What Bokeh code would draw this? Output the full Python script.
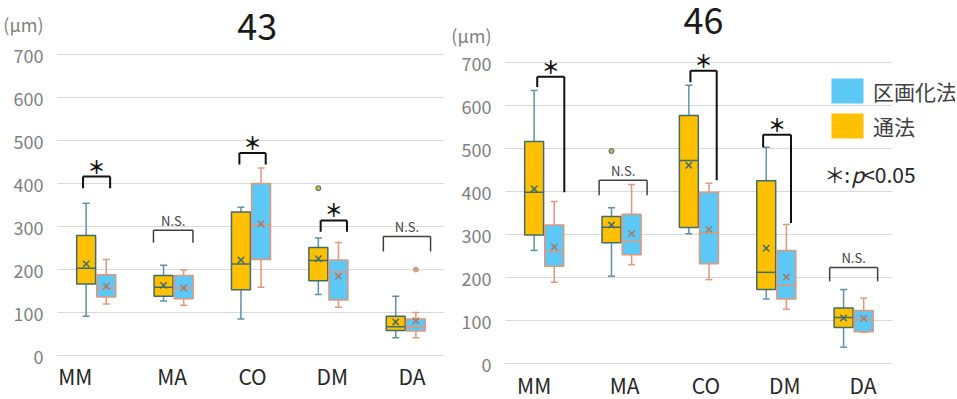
from bokeh.plotting import figure
from bokeh.models import (ColumnDataSource, Range1d, Label, Legend, LegendItem,
                          FixedTicker, Grid)
from bokeh.layouts import row
from bokeh.embed import file_html
from bokeh.resources import INLINE

# ---------------- data ----------------
CATS = ["MM", "MA", "CO", "DM", "DA"]
Y_TICKS = [0, 100, 200, 300, 400, 500, 600, 700]
UNIT_LABEL = "(μm)"

# tooth 43, 通法 (conventional)
t43_conv_min = [91, 127, 85, 142, 41]
t43_conv_q1 = [166, 138, 153, 174, 58]
t43_conv_med = [203, 159, 213, 221, 67]
t43_conv_q3 = [279, 186, 334, 251, 91]
t43_conv_max = [354, 210, 345, 273, 138]
t43_conv_mean = [213, 163, 222, 225, 78]
t43_conv_out_cat = ["DM"]
t43_conv_out_val = [389]

# tooth 43, 区画化法 (compartment)
t43_comp_min = [120, 117, 159, 112, 41]
t43_comp_q1 = [136, 132, 223, 129, 57]
t43_comp_med = [157, 157, 304, 194, 67]
t43_comp_q3 = [188, 186, 400, 222, 85]
t43_comp_max = [223, 199, 436, 263, 100]
t43_comp_mean = [161, 157, 306, 184, 81]
t43_comp_out_cat = ["DA"]
t43_comp_out_val = [200]

# tooth 46, 通法
t46_conv_min = [263, 203, 302, 150, 38]
t46_conv_q1 = [299, 281, 316, 172, 84]
t46_conv_med = [398, 317, 472, 212, 107]
t46_conv_q3 = [516, 342, 577, 425, 129]
t46_conv_max = [635, 362, 647, 503, 172]
t46_conv_mean = [406, 322, 461, 268, 106]
t46_conv_out_cat = ["MA"]
t46_conv_out_val = [494]

# tooth 46, 区画化法
t46_comp_min = [189, 230, 195, 126, 73]
t46_comp_q1 = [226, 253, 232, 150, 74]
t46_comp_med = [260, 284, 303, 182, 102]
t46_comp_q3 = [322, 347, 398, 263, 123]
t46_comp_max = [377, 416, 419, 323, 152]
t46_comp_mean = [271, 302, 312, 201, 105]
t46_comp_out_cat = []
t46_comp_out_val = []

# significance marks
sig43 = ["＊", "N.S.", "＊", "＊", "N.S."]
sig46 = ["＊", "N.S.", "＊", "＊", "N.S."]
# bracket heights (value units): top, left-leg end, right-leg end
br43_top = [416, 291, 471, 314, 277]
br43_left = [389, 262, 444, 288, 242]
br43_right = [389, 262, 444, 288, 242]
br46_top = [667, 426, 681, 532, 223]
br46_left = [643, 391, 654, 503, 191]
br46_right = [398, 391, 426, 327, 191]

LEGEND_LABELS = ["区画化法", "通法"]
TITLES = ["43", "46"]

# ---------------- style / layout ----------------
FONT = "Noto Sans CJK JP"
YEL = "#FFC000"
YEL_EDGE = "#3F6C6E"
YEL_WHISK = "#5F92AA"
BLU = "#5CC8F5"
BLU_EDGE = "#E2977B"
BLU_WHISK = "#E2977B"
YEL_MEAN = "#3F6C6E"
BLU_MEAN = "#A87866"
GRID = "#D9D9D9"
OFF = 0.13
BOX_W = 0.245
PX_PER_UNIT = 301 / 700.0  # vertical pixels per µm
FIG_H = 398

# bracket horizontal extents relative to category centre
br43_dx = [(-0.17, 0.18), (-0.26, 0.25), (-0.15, 0.19), (-0.10, 0.24), (-0.29, 0.32)]
br46_dx = [(-0.09, 0.26), (-0.29, 0.33), (-0.11, 0.23), (-0.17, 0.19), (-0.31, 0.31)]
cat_lab43_dx = [-0.27, -0.02, 0.02, 0.05, 0.08]
cat_lab46_dx = [-0.13, 0.04, 0.09, 0.11, 0.12]


def make_fig(width, border_left, border_right, zero_px, x_end, unit_at):
    # zero_px: canvas y (from top) of the value 0
    y0 = -(FIG_H - zero_px) / PX_PER_UNIT
    y1 = zero_px / PX_PER_UNIT
    p = figure(width=width, height=FIG_H, x_range=Range1d(0, x_end),
               y_range=Range1d(y0, y1), output_backend="svg", toolbar_location=None,
               x_axis_location=None,
               min_border_left=border_left, min_border_right=border_right,
               min_border_top=0, min_border_bottom=0)
    p.outline_line_color = None
    p.xgrid.grid_line_color = None
    p.yaxis.ticker = FixedTicker(ticks=Y_TICKS + [unit_at])
    p.yaxis.major_label_overrides = {unit_at: UNIT_LABEL}
    p.yaxis.axis_line_color = None
    p.yaxis.major_tick_line_color = None
    p.yaxis.minor_tick_line_color = None
    p.yaxis.major_label_text_font = FONT
    p.yaxis.major_label_text_font_size = "18px"
    p.yaxis.major_label_text_color = "#7F7F7F"
    p.yaxis.major_label_standoff = 8
    p.ygrid.ticker = FixedTicker(ticks=Y_TICKS)
    p.ygrid.grid_line_color = GRID
    p.ygrid.grid_line_width = 1
    if "cross_bounds" in Grid.properties():
        p.ygrid.cross_bounds = (0, len(CATS))
    return p


def add_series(p, mn, q1, md, q3, mx, mean, out_c, out_v, offset,
               fill, edge, whisk, mean_col, out_fill):
    xc = [i + 0.5 + offset for i in range(len(CATS))]
    src = ColumnDataSource(dict(x=xc, l=[x - BOX_W / 2 for x in xc],
                                r=[x + BOX_W / 2 for x in xc],
                                mn=mn, q1=q1, md=md, q3=q3, mx=mx, mean=mean))
    p.segment(x0="x", x1="x", y0="q3", y1="mx", source=src, line_color=whisk, line_width=1.5)
    p.segment(x0="x", x1="x", y0="mn", y1="q1", source=src, line_color=whisk, line_width=1.5)
    p.scatter(x="x", y="mx", marker="dash", size=7, source=src, line_color=whisk, line_width=1.5)
    p.scatter(x="x", y="mn", marker="dash", size=7, source=src, line_color=whisk, line_width=1.5)
    p.vbar(x="x", width=BOX_W, bottom="q1", top="q3", source=src,
           fill_color=fill, line_color=edge, line_width=1.5)
    p.segment(x0="l", x1="r", y0="md", y1="md", source=src, line_color=edge, line_width=1.5)
    p.scatter(x="x", y="mean", marker="x", size=9, source=src,
              line_color=mean_col, line_width=1.5)
    ox = [CATS.index(c) + 0.5 + offset for c in out_c]
    osrc = ColumnDataSource(dict(x=ox, v=out_v))
    p.scatter(x="x", y="v", marker="circle", size=5, source=osrc,
              fill_color=out_fill, line_color=edge, line_width=1)


def add_brackets(p, sig, top, left, right, dxs):
    for i, c in enumerate(CATS):
        cx = i + 0.5
        x0, x1 = cx + dxs[i][0], cx + dxs[i][1]
        ns = sig[i] == "N.S."
        col = "#404040" if ns else "#111111"
        lw = 1.5 if ns else 2
        p.multi_line(xs=[[x0, x1], [x0, x0], [x1, x1]],
                     ys=[[top[i], top[i]], [top[i], left[i]], [top[i], right[i]]],
                     line_color=col, line_width=lw)
        if ns:
            p.add_layout(Label(x=(x0 + x1) / 2, y=top[i], text=sig[i], text_align="center",
                               text_baseline="middle", y_offset=10, text_font=FONT,
                               text_font_size="13px", text_color="#404040"))
        else:
            p.add_layout(Label(x=(x0 + x1) / 2, y=top[i], text=sig[i], text_align="center",
                               text_baseline="middle", y_offset=11, text_font=FONT,
                               text_font_size="18px", text_font_style="bold",
                               text_color="#111111"))


def add_cat_labels(p, dxs, yoff):
    for i, c in enumerate(CATS):
        p.add_layout(Label(x=i + 0.5 + dxs[i], y=0, text=c, text_align="center",
                           text_baseline="middle", y_offset=yoff, text_font=FONT,
                           text_font_size="21px", text_color="#262626"))


# ---------------- chart 43 ----------------
# frame: x 53..444 on the page, value 0 at page y 355
p1 = make_fig(448, 53, 4, 355, 5, 772)
add_series(p1, t43_conv_min, t43_conv_q1, t43_conv_med, t43_conv_q3, t43_conv_max,
           t43_conv_mean, t43_conv_out_cat, t43_conv_out_val, -OFF,
           YEL, YEL_EDGE, YEL_WHISK, YEL_MEAN, "#C8B44A")
add_series(p1, t43_comp_min, t43_comp_q1, t43_comp_med, t43_comp_q3, t43_comp_max,
           t43_comp_mean, t43_comp_out_cat, t43_comp_out_val, OFF,
           BLU, BLU_EDGE, BLU_WHISK, BLU_MEAN, "#C9A08F")
add_brackets(p1, sig43, br43_top, br43_left, br43_right, br43_dx)
add_cat_labels(p1, cat_lab43_dx, -20.5)
p1.add_layout(Label(x=2.58, y=700, y_offset=28, text=TITLES[0], text_align="center",
                    text_baseline="middle", text_font=FONT, text_font_size="36px",
                    text_color="#1A1A1A"))

# ---------------- chart 46 ----------------
# frame: x 499..955 on the page (categories occupy 499..891), value 0 at page y 363
p2 = make_fig(507, 51, 0, 363, 456 / 78.4, 765)
add_series(p2, t46_conv_min, t46_conv_q1, t46_conv_med, t46_conv_q3, t46_conv_max,
           t46_conv_mean, t46_conv_out_cat, t46_conv_out_val, -OFF,
           YEL, YEL_EDGE, YEL_WHISK, YEL_MEAN, "#C8B44A")
add_series(p2, t46_comp_min, t46_comp_q1, t46_comp_med, t46_comp_q3, t46_comp_max,
           t46_comp_mean, t46_comp_out_cat, t46_comp_out_val, OFF,
           BLU, BLU_EDGE, BLU_WHISK, BLU_MEAN, "#C9A08F")
add_brackets(p2, sig46, br46_top, br46_left, br46_right, br46_dx)
add_cat_labels(p2, cat_lab46_dx, -21.5)
p2.add_layout(Label(x=2.56, y=700, y_offset=42, text=TITLES[1], text_align="center",
                    text_baseline="middle", text_font=FONT, text_font_size="36px",
                    text_color="#1A1A1A"))

# legend (dummy renderers, off-range, carry the colours)
rb = p2.vbar(x=[-10], bottom=[0], top=[1], width=0.1, fill_color=BLU, line_color=None)
ry = p2.vbar(x=[-10], bottom=[0], top=[1], width=0.1, fill_color=YEL, line_color=None)
leg = Legend(items=[LegendItem(label=LEGEND_LABELS[0], renderers=[rb]),
                    LegendItem(label=LEGEND_LABELS[1], renderers=[ry])],
             location=(322, FIG_H - 141), glyph_width=40, glyph_height=31, spacing=4,
             label_standoff=6, padding=0, margin=0, border_line_color=None,
             background_fill_alpha=0, label_text_font=FONT, label_text_font_size="21px",
             label_text_color="#404040")
p2.add_layout(leg)

# "*: p<0.05" note
pv_x = 4.254
pv_y = 440
p2.add_layout(Label(x=pv_x, y=pv_y, text="＊", text_align="center", text_baseline="middle",
                    text_font=FONT, text_font_size="21px", text_color="#262626"))
p2.add_layout(Label(x=pv_x, y=pv_y, x_offset=12.5, text=":", text_align="center",
                    text_baseline="middle", text_font=FONT, text_font_size="21px",
                    text_color="#262626"))
p2.add_layout(Label(x=pv_x, y=pv_y, x_offset=16.5, text="p", text_align="left",
                    text_baseline="middle", text_font=FONT, text_font_size="21px",
                    text_font_style="italic", text_color="#262626"))
p2.add_layout(Label(x=pv_x, y=pv_y, x_offset=28.5, text="<0.05", text_align="left",
                    text_baseline="middle", text_font=FONT, text_font_size="21px",
                    text_color="#262626"))

layout = row(p1, p2)
open("out.html", "w").write(file_html(layout, INLINE))
